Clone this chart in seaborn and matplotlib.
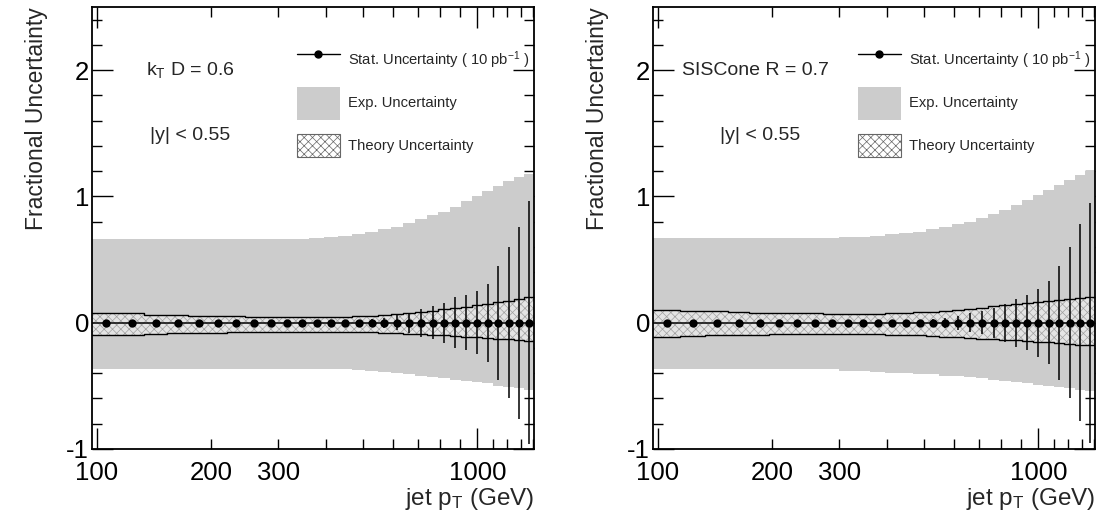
import numpy as np
import pandas as pd
import matplotlib
matplotlib.use("Agg")
import matplotlib.pyplot as plt
from matplotlib.lines import Line2D
from matplotlib.patches import Patch, Rectangle
from matplotlib.legend_handler import HandlerPatch
from matplotlib.ticker import FixedLocator, FixedFormatter
import seaborn as sns

# ---------------- data ----------------
bin_edges = [97, 114, 133, 153, 174, 196, 220, 245, 272, 300, 330, 362, 395, 430, 468,
             507, 548, 592, 638, 686, 737, 790, 846, 905, 967, 1032, 1101, 1172, 1248, 1327, 1410]

# left panel: kT D = 0.6
kt_stat = [0.002, 0.002, 0.003, 0.003, 0.004, 0.005, 0.006, 0.007, 0.008, 0.009, 0.011, 0.012,
           0.014, 0.016, 0.022, 0.03, 0.04, 0.06, 0.08, 0.11, 0.13, 0.16, 0.2, 0.22, 0.25, 0.31,
           0.45, 0.6, 0.76, 0.96]
kt_exp_up = [0.66, 0.66, 0.66, 0.66, 0.66, 0.66, 0.66, 0.66, 0.66, 0.66, 0.665, 0.67, 0.68,
             0.69, 0.70, 0.72, 0.74, 0.76, 0.79, 0.82, 0.85, 0.88, 0.92, 0.96, 1.00, 1.04,
             1.08, 1.12, 1.15, 1.18]
kt_exp_dn = [-0.37, -0.37, -0.37, -0.37, -0.37, -0.37, -0.37, -0.37, -0.37, -0.37, -0.37,
             -0.37, -0.37, -0.37, -0.375, -0.38, -0.39, -0.40, -0.41, -0.42, -0.43, -0.44,
             -0.45, -0.46, -0.47, -0.48, -0.50, -0.51, -0.52, -0.53]
kt_th_up = [0.08, 0.075, 0.065, 0.06, 0.055, 0.05, 0.05, 0.048, 0.046, 0.045, 0.045, 0.045,
            0.046, 0.048, 0.05, 0.055, 0.06, 0.068, 0.076, 0.085, 0.095, 0.105, 0.115, 0.125,
            0.14, 0.15, 0.165, 0.175, 0.19, 0.2]
kt_th_dn = [-0.097, -0.095, -0.088, -0.085, -0.08, -0.078, -0.076, -0.075, -0.074, -0.073,
            -0.073, -0.073, -0.073, -0.074, -0.075, -0.077, -0.08, -0.083, -0.086, -0.09,
            -0.095, -0.1, -0.105, -0.11, -0.115, -0.12, -0.125, -0.13, -0.14, -0.145]

# right panel: SISCone R = 0.7
sc_stat = [0.002, 0.002, 0.003, 0.003, 0.004, 0.005, 0.006, 0.007, 0.008, 0.009, 0.011, 0.012,
           0.014, 0.016, 0.022, 0.03, 0.04, 0.055, 0.075, 0.09, 0.12, 0.15, 0.19, 0.22, 0.27,
           0.33, 0.45, 0.6, 0.78, 0.95]
sc_exp_up = [0.67, 0.67, 0.67, 0.67, 0.67, 0.67, 0.67, 0.67, 0.67, 0.675, 0.68, 0.69, 0.70,
             0.71, 0.72, 0.74, 0.76, 0.78, 0.80, 0.83, 0.86, 0.89, 0.93, 0.97, 1.01, 1.05,
             1.09, 1.13, 1.17, 1.20]
sc_exp_dn = [-0.37, -0.37, -0.37, -0.37, -0.37, -0.37, -0.37, -0.37, -0.37, -0.38, -0.385,
             -0.39, -0.40, -0.40, -0.41, -0.41, -0.42, -0.42, -0.43, -0.44, -0.45, -0.46,
             -0.47, -0.48, -0.49, -0.50, -0.51, -0.52, -0.53, -0.54]
sc_th_up = [0.10, 0.095, 0.09, 0.085, 0.08, 0.078, 0.075, 0.073, 0.072, 0.07, 0.07, 0.072,
            0.075, 0.078, 0.082, 0.088, 0.095, 0.10, 0.11, 0.12, 0.13, 0.14, 0.145, 0.155,
            0.165, 0.17, 0.18, 0.19, 0.195, 0.2]
sc_th_dn = [-0.11, -0.105, -0.1, -0.097, -0.095, -0.093, -0.092, -0.091, -0.09, -0.09, -0.09,
            -0.092, -0.095, -0.098, -0.1, -0.105, -0.11, -0.115, -0.12, -0.125, -0.13, -0.135,
            -0.14, -0.145, -0.15, -0.155, -0.16, -0.17, -0.175, -0.18]

panel_labels = ["k$_{T}$ D = 0.6", "SISCone R = 0.7"]
rap_label = "|y| < 0.55"
legend_labels = ["Stat. Uncertainty ( 10 pb$^{-1}$ )", "Exp. Uncertainty", "Theory Uncertainty"]
x_tick_vals = [100, 200, 300, 1000]
y_tick_vals = [-1, 0, 1, 2]

# ---------------- style ----------------
sns.set_style("ticks")
plt.rcParams["font.family"] = ["Liberation Sans", "DejaVu Sans"]
plt.rcParams["axes.unicode_minus"] = False
plt.rcParams["hatch.linewidth"] = 0.5
plt.rcParams["mathtext.default"] = "regular"

fig = plt.figure(figsize=(11, 5.15), dpi=100)
ax_l = fig.add_axes([92 / 1100, 1 - 449 / 515, 442 / 1100, 442 / 515])
ax_r = fig.add_axes([653 / 1100, 1 - 449 / 515, 442 / 1100, 442 / 515])

edges = np.array(bin_edges, dtype=float)
centers = 0.5 * (edges[:-1] + edges[1:])
EXP_C = "#cccccc"


def step_vals(v):
    v = np.asarray(v, dtype=float)
    return np.append(v, v[-1])


def small_box(legend, orig_handle, xdescent, ydescent, width, height, fontsize):
    return Rectangle((-xdescent, -ydescent + 0.17 * height), width, 0.68 * height)


def draw_panel(ax, stat, exp_up, exp_dn, th_up, th_dn, label, txt_x, rap_x):
    # experimental band
    ax.fill_between(edges, step_vals(exp_dn), step_vals(exp_up), step="post",
                    color=EXP_C, lw=0, zorder=1)
    # theory band
    ax.fill_between(edges, step_vals(th_dn), step_vals(th_up), step="post",
                    facecolor="#e4e4e4", edgecolor="#a0a0a0", hatch="xxxx", lw=0, zorder=2)
    ax.step(edges, step_vals(th_up), where="post", color="black", lw=1.0, zorder=3)
    ax.step(edges, step_vals(th_dn), where="post", color="black", lw=1.0, zorder=3)
    # stat uncertainty points
    df = pd.DataFrame({"pt": centers, "val": np.zeros_like(centers)})
    xerr = np.vstack([centers - edges[:-1], edges[1:] - centers])
    ax.errorbar(centers, np.zeros_like(centers), yerr=stat, xerr=xerr, fmt="none",
                ecolor="black", elinewidth=1.1, capsize=0, zorder=4)
    sns.scatterplot(data=df, x="pt", y="val", ax=ax, color="black", s=36, linewidth=0,
                    zorder=5, legend=False)

    ax.set_xscale("log")
    ax.set_xlim(97, 1410)
    ax.set_ylim(-1, 2.5)
    ax.xaxis.set_major_locator(FixedLocator([100, 1000]))
    ax.xaxis.set_major_formatter(FixedFormatter(["100", "1000"]))
    minors = [200, 300, 400, 500, 600, 700, 800, 900, 1100, 1200, 1300, 1400]
    ax.xaxis.set_minor_locator(FixedLocator(minors))
    ax.xaxis.set_minor_formatter(FixedFormatter(
        [str(m) if m in x_tick_vals else "" for m in minors]))
    ax.yaxis.set_major_locator(FixedLocator(y_tick_vals))
    ax.set_yticklabels([str(v) for v in y_tick_vals])
    ax.yaxis.set_minor_locator(FixedLocator(np.arange(-0.8, 2.5, 0.2)))
    ax.tick_params(which="both", direction="in", top=True, right=True, colors="black",
                   labelsize=18.5)
    ax.tick_params(which="major", length=15, width=1.0)
    ax.tick_params(which="minor", length=7, width=1.0)
    ax.tick_params(axis="y", which="both", pad=2)
    ax.tick_params(axis="x", which="both", pad=9)
    for s in ax.spines.values():
        s.set_linewidth(1.3)
        s.set_color("black")

    ax.set_xlabel("jet p$_{T}$ (GeV)", fontsize=17.5, loc="right", labelpad=0)
    ax.set_ylabel("Fractional Uncertainty", fontsize=16.5, loc="top", labelpad=13)

    ax.text(txt_x, 0.857, label, transform=ax.transAxes, fontsize=14, ha="center", va="center")
    ax.text(rap_x, 0.71, rap_label, transform=ax.transAxes,
            fontsize=14, ha="center", va="center")

    theory_handle = Patch(facecolor="white", edgecolor="#666666", hatch="xxxx", lw=0.8)
    handles = [
        Line2D([0], [0], color="black", lw=1.0, marker="o", markersize=5),
        Patch(facecolor=EXP_C, edgecolor=EXP_C, lw=0),
        theory_handle,
    ]
    ax.legend(handles, legend_labels, loc="upper left", bbox_to_anchor=(0.464, 0.917),
              frameon=False, fontsize=10.6, handlelength=2.9, handleheight=3.1,
              labelspacing=0.65, handletextpad=0.55, borderaxespad=0, borderpad=0,
              handler_map={theory_handle: HandlerPatch(patch_func=small_box)})


draw_panel(ax_l, kt_stat, kt_exp_up, kt_exp_dn, kt_th_up, kt_th_dn, panel_labels[0], 0.222, 0.222)
draw_panel(ax_r, sc_stat, sc_exp_up, sc_exp_dn, sc_th_up, sc_th_dn, panel_labels[1], 0.231, 0.242)

fig.savefig("out.png", dpi=100)
